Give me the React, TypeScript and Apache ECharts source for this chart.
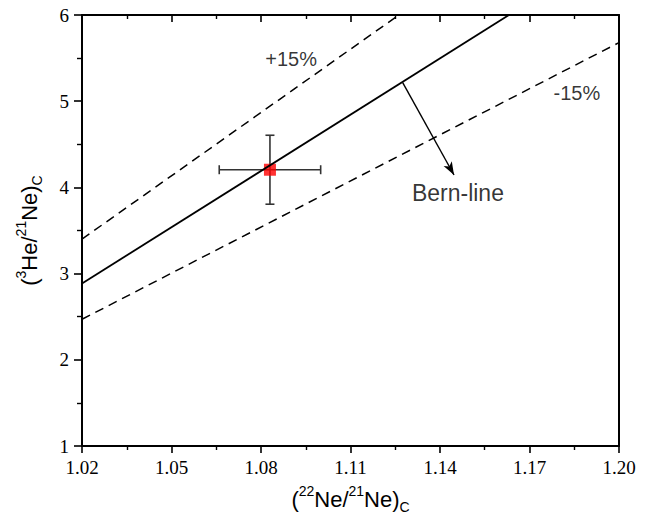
import React, { useEffect, useRef } from "react";
import * as echarts from "echarts";

// ---- data ----
const xTicks = { min: 1.02, max: 1.2, interval: 0.03 };
const yTicks = { min: 1, max: 6, interval: 1 };

const bernLine: number[][] = [
  [1.02, 2.885],
  [1.1631, 6.0],
];
const plus15Line: number[][] = [
  [1.02, 3.4],
  [1.1262, 6.0],
];
const minus15Line: number[][] = [
  [1.02, 2.47],
  [1.2, 5.68],
];

// sample: [x, y, xErr, yErr]
const sample: number[] = [1.083, 4.205, 0.017, 0.4];

const arrowStart: number[] = [1.1275, 5.215];
const arrowEnd: number[] = [1.1447, 4.144];

const annotationTexts: string[] = ["+15%", "-15%", "Bern-line"];
const annotationPos: number[][] = [
  [1.0901, 5.484],
  [1.1859, 5.095],
  [1.146, 3.935],
];

export default function App() {
  const ref = useRef<HTMLDivElement>(null);

  useEffect(() => {
    if (!ref.current) return;
    const chart = echarts.init(ref.current, undefined, { renderer: "svg" });

    const axisLineStyle = { color: "#000", width: 2 };
    const tickStyle = { color: "#000", width: 1.6 };
    const minorStyle = { color: "#000", width: 1.4 };
    const labelFont = {
      fontFamily: "'Liberation Serif', 'DejaVu Serif', serif",
      fontSize: 19,
      color: "#000",
    };
    const sans = "'Liberation Sans', Arial, sans-serif";
    const titleRich = {
      a: { fontFamily: sans, fontSize: 22, color: "#000", lineHeight: 30 },
      sup: {
        fontFamily: sans,
        fontSize: 14,
        color: "#000",
        verticalAlign: "top",
        lineHeight: 18,
      },
      sub: {
        fontFamily: sans,
        fontSize: 14,
        color: "#000",
        verticalAlign: "bottom",
        lineHeight: 14,
      },
    };

    const annoSizes = [20, 20, 23];

    const option: any = {
      animation: false,
      backgroundColor: "#fff",
      grid: { left: 82, right: 32, top: 15, bottom: 74, containLabel: false },
      xAxis: [
        {
          type: "value",
          position: "bottom",
          min: xTicks.min,
          max: xTicks.max,
          interval: xTicks.interval,
          axisLine: { show: true, onZero: false, lineStyle: axisLineStyle },
          axisTick: { show: true, length: 7, lineStyle: tickStyle },
          minorTick: { show: true, splitNumber: 2, length: 4, lineStyle: minorStyle },
          splitLine: { show: false },
          axisLabel: {
            ...labelFont,
            margin: 12,
            formatter: (v: number) => v.toFixed(2),
          },
          name: "{a|(}{sup|22}{a|Ne/}{sup|21}{a|Ne)}{sub|C}",
          nameLocation: "middle",
          nameGap: 38,
          nameTextStyle: { rich: titleRich },
        },
        {
          type: "value",
          position: "top",
          min: xTicks.min,
          max: xTicks.max,
          interval: xTicks.interval,
          axisLine: { show: true, onZero: false, lineStyle: axisLineStyle },
          axisTick: { show: true, inside: true, length: 7, lineStyle: tickStyle },
          minorTick: { show: true, splitNumber: 2, length: 4, lineStyle: minorStyle },
          splitLine: { show: false },
          axisLabel: { show: false },
        },
      ],
      yAxis: [
        {
          type: "value",
          position: "left",
          min: yTicks.min,
          max: yTicks.max,
          interval: yTicks.interval,
          axisLine: { show: true, onZero: false, lineStyle: axisLineStyle },
          axisTick: { show: true, length: 8, lineStyle: tickStyle },
          minorTick: { show: true, splitNumber: 2, length: 5, lineStyle: minorStyle },
          splitLine: { show: false },
          axisLabel: { ...labelFont, margin: 13 },
          name: "{a|(}{sup|3}{a|He/}{sup|21}{a|Ne)}{sub|C}",
          nameLocation: "middle",
          nameRotate: 90,
          nameGap: 38,
          nameTextStyle: { rich: titleRich },
        },
        {
          type: "value",
          position: "right",
          min: yTicks.min,
          max: yTicks.max,
          interval: yTicks.interval,
          axisLine: { show: true, onZero: false, lineStyle: axisLineStyle },
          axisTick: { show: false },
          splitLine: { show: false },
          axisLabel: { show: false },
        },
      ],
      series: [
        {
          name: "+15%",
          type: "line",
          data: plus15Line,
          showSymbol: false,
          symbol: "none",
          lineStyle: { color: "#000", width: 1.5, type: [9, 6] },
          z: 3,
        },
        {
          name: "-15%",
          type: "line",
          data: minus15Line,
          showSymbol: false,
          symbol: "none",
          lineStyle: { color: "#000", width: 1.5, type: [9, 6] },
          z: 3,
        },
        {
          name: "error",
          type: "custom",
          data: [sample],
          z: 4,
          renderItem: (params: any, api: any) => {
            const x = api.value(0);
            const y = api.value(1);
            const ex = api.value(2);
            const ey = api.value(3);
            const l = api.coord([x - ex, y]);
            const r = api.coord([x + ex, y]);
            const t = api.coord([x, y + ey]);
            const b = api.coord([x, y - ey]);
            const cap = 4.5;
            const style = { stroke: "#333", lineWidth: 1.6 };
            return {
              type: "group",
              children: [
                { type: "line", shape: { x1: l[0], y1: l[1], x2: r[0], y2: r[1] }, style },
                { type: "line", shape: { x1: t[0], y1: t[1], x2: b[0], y2: b[1] }, style },
                { type: "line", shape: { x1: l[0], y1: l[1] - cap, x2: l[0], y2: l[1] + cap }, style },
                { type: "line", shape: { x1: r[0], y1: r[1] - cap, x2: r[0], y2: r[1] + cap }, style },
                { type: "line", shape: { x1: t[0] - cap, y1: t[1], x2: t[0] + cap, y2: t[1] }, style },
                { type: "line", shape: { x1: b[0] - cap, y1: b[1], x2: b[0] + cap, y2: b[1] }, style },
              ],
            };
          },
        },
        {
          name: "sample",
          type: "scatter",
          data: [[sample[0], sample[1]]],
          symbol: "rect",
          symbolSize: 12,
          itemStyle: { color: "#ff0000" },
          z: 5,
        },
        {
          name: "Bern-line",
          type: "line",
          data: bernLine,
          showSymbol: false,
          symbol: "none",
          lineStyle: { color: "#000", width: 1.8, type: "solid" },
          z: 6,
          markLine: {
            silent: true,
            symbol: ["none", "arrow"],
            symbolSize: [7, 13],
            label: { show: false },
            lineStyle: { color: "#000", width: 1.4, type: "solid" },
            data: [[{ coord: arrowStart }, { coord: arrowEnd }]],
          },
        },
        {
          name: "labels",
          type: "scatter",
          symbolSize: 0,
          silent: true,
          z: 7,
          data: annotationTexts.map((t, i) => ({
            value: annotationPos[i],
            name: t,
            label: {
              show: true,
              position: "inside",
              formatter: t,
              fontFamily: sans,
              fontSize: annoSizes[i],
              color: "#000",
              textBorderWidth: 0,
            },
          })),
        },
      ],
    };

    chart.setOption(option);
    return () => chart.dispose();
  }, []);

  return (
    <div
      ref={ref}
      style={{ position: "fixed", left: 0, top: 0, width: 651, height: 520, background: "#fff" }}
    />
  );
}
